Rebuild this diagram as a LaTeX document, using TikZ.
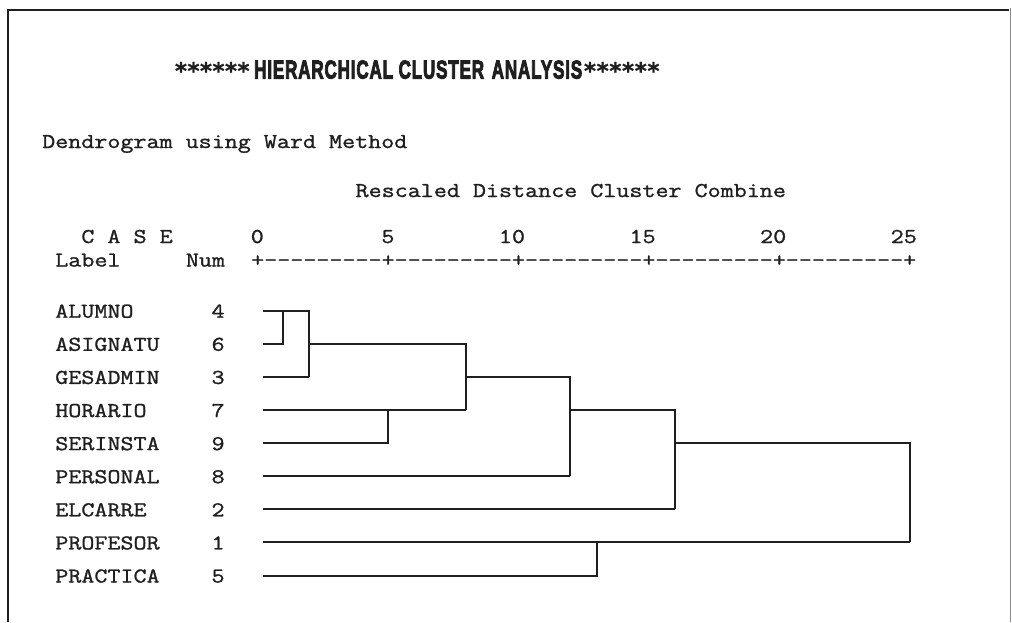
\documentclass[tikz,border=0pt]{standalone}
\usepackage{fontspec}
\usepackage{graphicx}
\newfontfamily\spssmono{Latin Modern Mono}[FakeStretch=1.2,FakeBold=1.2]
\newfontfamily\spsshead{Liberation Sans}[LetterSpace=5,FakeBold=4]
\newfontfamily\spssstar{DejaVu Sans}[FakeBold=1]
\colorlet{ink}{black!88}
% heading box: cap height of the font becomes the box height
\newcommand\capbox[1]{\raisebox{0pt}[0.716em][0pt]{#1}}

\begin{document}
\begin{tikzpicture}[x=1pt,y=-1pt]
\tikzset{
    monoText/.style={inner sep=0pt,text=ink,font=\spssmono\fontsize{21.1}{25}\selectfont},
    caseLabel/.style={monoText,anchor=base west},
    caseNum/.style={monoText,anchor=base east},
    titleText/.style={inner sep=0pt,anchor=base west,text=ink,font=\spsshead\bfseries\fontsize{25}{26}\selectfont},
    titleStar/.style={inner sep=0pt,anchor=base,text=ink,font=\spssstar\bfseries\fontsize{23}{23}\selectfont},
    dendroLine/.style={draw=ink,line width=2pt,line join=miter}
}
\useasboundingbox (0,0) rectangle (1012,622);

% page frame
\draw[ink,line width=2.4pt] (8,622) -- (8,10) -- (1009,10);
\draw[black!45,line width=1.4pt] (1010.6,8) -- (1010.6,622);

% heading, stars drawn one by one
\node[titleText] (title) at (254,78.5)
    {\resizebox{328pt}{18.5pt}{\capbox{HIERARCHICAL CLUSTER\hspace{0.45em}ANALYSIS}}};
\foreach \k in {0,...,5} {
    \node[titleStar] (starL\k) at ({181+12.5*\k},79) {*};
    \node[titleStar] (starR\k) at ({590+12.7*\k},79) {*};
}

\node[caseLabel] (method) at (42,148) {Dendrogram using Ward Method};
\node[caseLabel] (scaleTitle) at (355.4,197) {Rescaled Distance Cluster Combine};
\node[caseLabel] (caseHead) at (81.2,243) {C A S E};
\node[caseLabel] (labelHead) at (55.1,266.5) {Label};
\node[caseLabel] (numHead) at (185.7,266.5) {Num};

% axis: one column is 13.06, ticks every ten columns from column 16
\node[caseLabel] (axis) at (251,266.5) {+---------+---------+---------+---------+---------+};
\foreach \v [count=\i from 0] in {0,5,10,15,20,25}
    \node[caseNum] (tick\v) at ({42+(17+10*\i)*13.06},243) {\v};

% cases in dendrogram order
\foreach \case/\name [count=\r from 0] in
    {4/ALUMNO,6/ASIGNATU,3/GESADMIN,7/HORARIO,9/SERINSTA,8/PERSONAL,2/ELCARRE,1/PROFESOR,5/PRACTICA}
{
    \node[caseLabel] (name\case) at (55.1,{317.7+33.1*\r}) {\name};
    \node[caseNum] (num\case) at (224.8,{317.7+33.1*\r}) {\case};
    \coordinate (c\case) at (263,{310.7+33.1*\r});
}

% merge distances on the rescaled axis
\foreach \d in {1,2,5,8,12,13,16,25}
    \coordinate (d\d) at ({257+26.12*\d},0);

\draw[dendroLine] (c6) -| (d1 |- c4);          % 4 + 6
\draw[dendroLine] (c4) -| (d2 |- c3);          % + 3
\draw[dendroLine] (c3) -- (d2 |- c3);
\draw[dendroLine] (c9) -| (d5 |- c7);          % 7 + 9
\draw[dendroLine] (c6 -| d2) -| (d8 |- c7);
\draw[dendroLine] (c7) -- (d8 |- c7);
\draw[dendroLine] (c3 -| d8) -| (d12 |- c8);   % + 8
\draw[dendroLine] (c8) -- (d12 |- c8);
\draw[dendroLine] (c7 -| d12) -| (d16 |- c2);  % + 2
\draw[dendroLine] (c2) -- (d16 |- c2);
\draw[dendroLine] (c5) -| (d13 |- c1);         % 1 + 5
\draw[dendroLine] (c9 -| d16) -| (d25 |- c1);  % last merge
\draw[dendroLine] (c1) -- (d25 |- c1);
\end{tikzpicture}
\end{document}
